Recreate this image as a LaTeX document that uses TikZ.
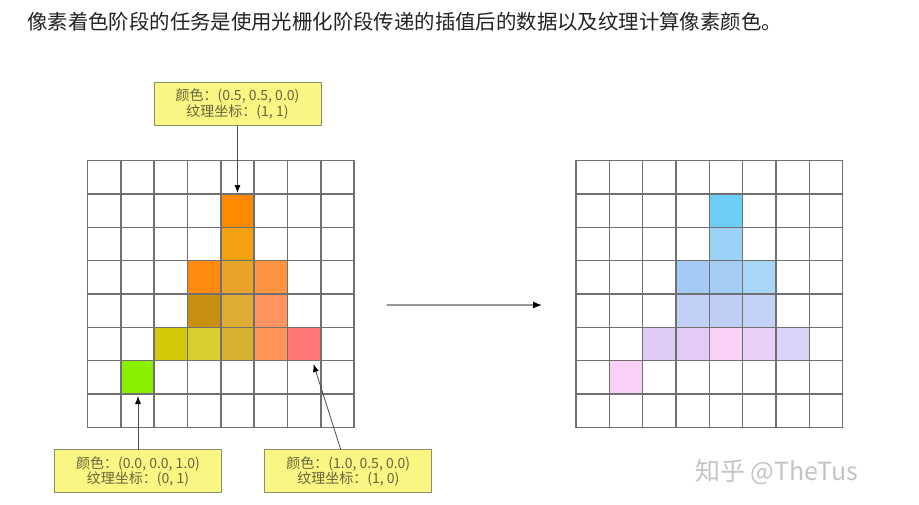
\documentclass[tikz,border=0pt]{standalone}
\usepackage{fontspec}
\setmainfont{Noto Sans CJK SC}
\usetikzlibrary{arrows.meta}

\definecolor{gridgray}{HTML}{707070}
\definecolor{boxfill}{HTML}{FAF684}
\definecolor{boxline}{HTML}{8E8E6C}
\definecolor{boxtext}{HTML}{66663C}
\definecolor{titletext}{HTML}{222222}
\definecolor{marktext}{HTML}{C4C4C4}

\begin{document}
\begin{tikzpicture}[line cap=round, line join=round, x=1pt, y=-1pt,
  labelbox/.style={draw=boxline, fill=boxfill, line width=0.9pt,
    minimum width=167pt, minimum height=43pt, inner sep=0pt,
    align=center, text=boxtext, font=\fontsize{14}{15.5}\selectfont},
  pointer/.style={-{Latex[length=8pt,width=6pt,color=black]},
    draw=black!70, line width=0.8pt},
  gridline/.style={draw=gridgray, line width=1.4pt}]
\useasboundingbox (0,0) rectangle (919,504);
\node [anchor=west, inner sep=0pt, text=titletext,
  font=\fontsize{20.4}{24}\selectfont] (title) at (27,22)
  {像素着色阶段的任务是使用光栅化阶段传递的插值后的数据以及纹理计算像素颜色。};
\foreach \c/\r/\h in {4/1/FF8A00, 4/2/F5A010, 3/3/FF8C10, 4/3/E8A428,
  5/3/FF9440, 3/4/C89010, 4/4/E0AC38, 5/4/FF9460, 2/5/D4C808,
  3/5/D8D030, 4/5/D8B030, 5/5/FF9458, 6/5/FF7878, 1/6/88F000}
{\definecolor{cellfill}{HTML}{\h}
\fill [cellfill, shift={(87.5,160.7)}] (\c*33.33,\r*33.33) rectangle ++(33.33,33.33);}
\foreach \c/\r/\h in {4/1/6CCDF5, 4/2/9CD2F6, 3/3/A4CAF6, 4/3/A4CDF4,
  5/3/A8D6F7, 3/4/C2CFF7, 4/4/C0CEF6, 5/4/C4D2F8, 2/5/E0CAF6,
  3/5/E2CCF6, 4/5/F8D2F6, 5/5/E8D0F6, 6/5/D8D4F8, 1/6/F8D2F6}
{\definecolor{cellfill}{HTML}{\h}
\fill [cellfill, shift={(576,160.7)}] (\c*33.33,\r*33.33) rectangle ++(33.33,33.33);}
\foreach \gx in {87.5,576}
\foreach \i in {0,...,8}
{\draw [gridline, shift={(\gx,160.7)}] (\i*33.33,0) -- (\i*33.33,266.7);
\draw [gridline, shift={(\gx,160.7)}] (0,\i*33.33) -- (266.7,\i*33.33);}
\coordinate (topcell) at (237.5,193);
\coordinate (greencell) at (138,396);
\coordinate (redcell) at (313.5,364);
\coordinate (leftend) at (387,305);
\coordinate (rightend) at (542,305);
\node [labelbox] (topbox) at (237.5,104) {颜色：(0.5, 0.5, 0.0)\\纹理坐标：(1, 1)};
\node [labelbox] (greenbox) at (138,471.3) {颜色：(0.0, 0.0, 1.0)\\纹理坐标：(0, 1)};
\node [labelbox] (redbox) at (348.3,471.3) {颜色：(1.0, 0.5, 0.0)\\纹理坐标：(1, 0)};
\draw [pointer] (topbox.south) -- (topcell);
\draw [pointer] (greenbox.north) -- (greencell);
\draw [pointer] ([xshift=-7.6pt]redbox.north) -- (redcell);
\draw [-{Latex[length=9pt,width=7pt,color=black]}, draw=gray!80,
  line width=1.3pt] (leftend) -- (rightend);
\node [anchor=west, inner sep=0pt, text=marktext,
  font=\fontsize{25}{28}\selectfont] (mark) at (695,472) {知乎 @TheTus};
\end{tikzpicture}
\end{document}
